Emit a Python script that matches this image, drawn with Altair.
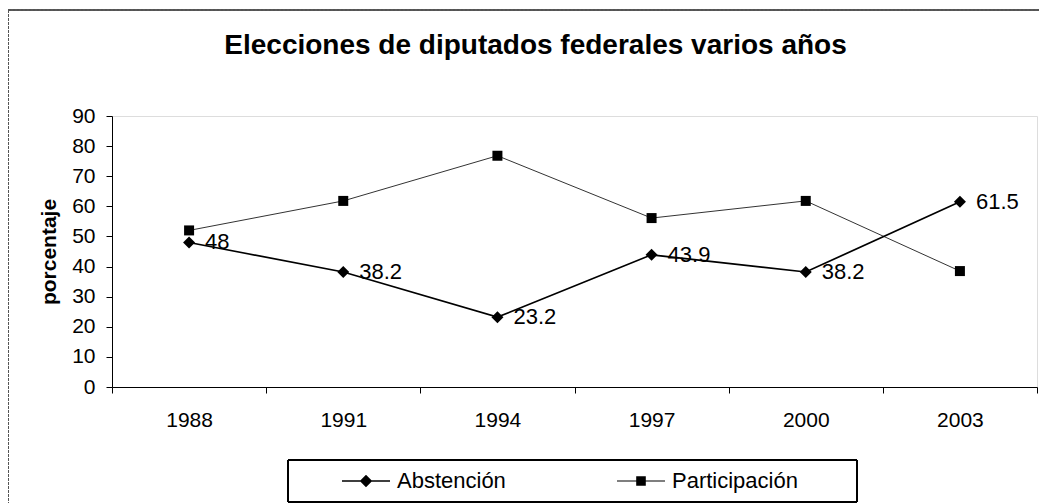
import altair as alt
import pandas as pd

years = ["1988", "1991", "1994", "1997", "2000", "2003"]
abstencion = [48, 38.2, 23.2, 43.9, 38.2, 61.5]
participacion = [52, 61.8, 76.8, 56.1, 61.8, 38.5]
series = ["Abstención", "Participación"]
y_ticks = [0, 10, 20, 30, 40, 50, 60, 70, 80, 90]

rows = []
for yr, a, p in zip(years, abstencion, participacion):
    rows.append({"year": yr, "serie": series[0], "valor": a})
    rows.append({"year": yr, "serie": series[1], "valor": p})
df = pd.DataFrame(rows)

FONT = "Liberation Sans"
PW, PH = 925, 271

# legend symbols: line with marker in the middle
path_a = "M-1,-0.035H1V0.035H-1Z M0,-0.26L0.26,0L0,0.26L-0.26,0Z"
path_p = "M-1,-0.02H1V0.02H-1Z M-0.2,-0.2H0.2V0.2H-0.2Z"

x_enc = alt.X(
    "year:O", sort=years,
    scale=alt.Scale(type="band", paddingInner=0, paddingOuter=0),
    bandPosition=0.5,
    axis=alt.Axis(title=None, tickBand="extent", labelAngle=0, labelFontSize=21,
                  labelPadding=16, tickSize=6, domainColor="black", tickColor="black",
                  labelColor="black", labelFont=FONT),
)
y_enc = alt.Y(
    "valor:Q",
    scale=alt.Scale(domain=[0, 90], nice=False, zero=True),
    axis=alt.Axis(values=y_ticks, title="porcentaje", titleFont=FONT, titleFontSize=21,
                  titleFontWeight="bold", titleColor="black", titlePadding=12,
                  labelFontSize=21, labelFont=FONT, labelColor="black", labelPadding=11,
                  tickSize=6, grid=False, domainColor="black", tickColor="black"),
)

base = alt.Chart(df).encode(x=x_enc, y=y_enc)
abs_f = alt.datum.serie == series[0]
par_f = alt.datum.serie == series[1]

line_p = base.transform_filter(par_f).mark_line(color="#333", strokeWidth=1)
line_a = base.transform_filter(abs_f).mark_line(color="black", strokeWidth=1.7)
pts_p = base.transform_filter(par_f).mark_point(shape="square", filled=True, size=100,
                                                 color="black", opacity=1)
pts_a = base.transform_filter(abs_f).mark_point(shape="diamond", filled=True, size=144,
                                                 color="black", opacity=1)
labels = base.transform_filter(abs_f).mark_text(
    align="left", baseline="middle", dx=16, fontSize=22, font=FONT, color="black"
).encode(text=alt.Text("valor:Q", format="~g"))

legend_layer = base.mark_point(filled=True, opacity=0, color="black").encode(
    shape=alt.Shape(
        "serie:N",
        scale=alt.Scale(domain=series, range=[path_a, path_p]),
        legend=alt.Legend(
            orient="none", legendX=230, legendY=341, direction="horizontal", title=None,
            symbolSize=2304, symbolFillColor="black", symbolStrokeWidth=0,
            symbolOpacity=1, labelFontSize=22, labelFont=FONT, labelColor="black",
            labelOffset=7, columnPadding=111, padding=0,
        ),
    )
)

legend_box = alt.Chart(df).mark_rect(fill=None, stroke="black", strokeWidth=1).encode(
    x=alt.value(176), x2=alt.value(745), y=alt.value(344), y2=alt.value(386)
)
outer_frame = alt.Chart(df).mark_rect(fill=None, stroke="#555", strokeWidth=1,
                                      strokeDash=[3, 1]).encode(
    x=alt.value(-103.5), x2=alt.value(1000), y=alt.value(-106), y2=alt.value(600)
)

chart = alt.layer(
    outer_frame, legend_box, line_p, line_a, pts_p, pts_a, labels, legend_layer
).properties(
    width=PW, height=PH,
    autosize=alt.AutoSizeParams(type="none"),
    padding={"left": 104, "top": 108, "right": 2, "bottom": 116},
    title=alt.TitleParams(
        "Elecciones de diputados federales varios años", font=FONT, fontSize=28,
        fontWeight="bold", color="black", anchor="middle", frame="group",
        baseline="alphabetic", offset=-72, dx=-39,
    ),
).configure_view(
    stroke="#555", strokeDash=[2, 1], strokeWidth=1
).configure(background="white")

chart.save("out.html", embed_options={"renderer": "svg", "actions": False})
